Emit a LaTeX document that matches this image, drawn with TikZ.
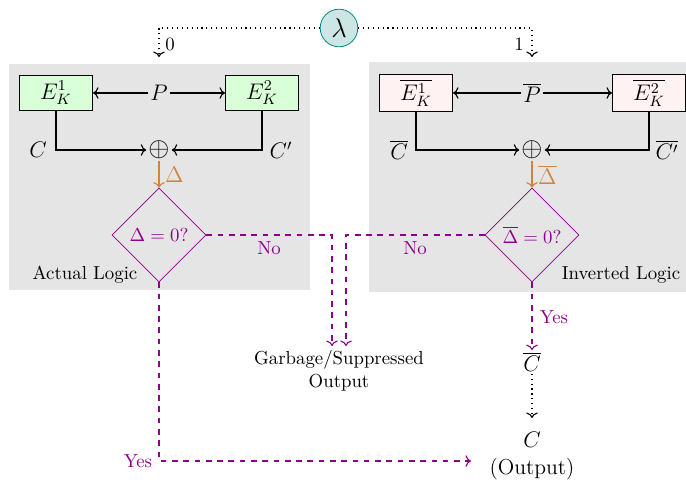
\documentclass[tikz,border=0pt]{standalone}
\usetikzlibrary{shapes.geometric,arrows.meta}
\definecolor{myorange}{RGB}{205,133,63}
\definecolor{mypurple}{RGB}{140,0,140}
\begin{document}
\begin{tikzpicture}[x=0.532pt,y=-0.532pt,
  panel/.style={fill=gray!20,draw=none},
  encg/.style={draw,fill=green!15,minimum width=39pt,minimum height=19pt,inner sep=1pt,font=\large},
  encr/.style={draw,fill=red!5,minimum width=39pt,minimum height=20pt,inner sep=1pt,font=\large},
  lbl/.style={inner sep=1pt},
  mlbl/.style={inner sep=1pt,font=\large},
  plbl/.style={inner sep=1pt,text=mypurple},
  dec/.style={draw=mypurple,shape=diamond,aspect=1,minimum width=50pt,minimum height=50pt,inner sep=0pt,text=mypurple},
  blk/.style={semithick,->},
  org/.style={draw=myorange,semithick,->},
  pdash/.style={draw=mypurple,semithick,dashed,->},
  dots/.style={dotted,semithick,->}]
\useasboundingbox (0,0) rectangle (686,482);
% panels
\fill[panel] (9,64) rectangle (310,290);
\fill[panel] (369,62) rectangle (686,292);
% lambda
\node[circle,draw=teal,fill=teal!20,minimum size=20pt,inner sep=0pt,font=\Large] (lam) at (339,28) {$\lambda$};
\coordinate (t1) at (159,57);
\coordinate (t2) at (532,57);
\draw[dots] (lam.west) -| (t1);
\draw[dots] (lam.east) -| (t2);
\node[lbl] (z0) at (170,44) {0};
\node[lbl] (z1) at (519,44) {1};
% left logic
\node[encg] (E1) at (56,93) {$E_K^1$};
\node[encg] (E2) at (262,93) {$E_K^2$};
\node[mlbl] (P) at (159,93) {$P$};
\node[lbl,font=\Large] (X1) at (159,150) {$\oplus$};
\node[mlbl] (C1) at (38,150) {$C$};
\node[mlbl] (C1p) at (281,150) {$C'$};
\draw[blk] (P) -- (E1);
\draw[blk] (P) -- (E2);
\draw[blk] (E1.south) |- (X1.west);
\draw[blk] (E2.south) |- (X1.east);
\node[dec] (D1) at (159,235) {$\Delta=0?$};
\draw[org] (X1.south) -- (D1.north) node[midway,right,text=myorange,inner sep=3pt,font=\large] {$\Delta$};
\node[lbl] (AL) at (85,275) {Actual Logic};
% right logic
\node[encr] (F1) at (416,93) {$\overline{E_K^1}$};
\node[encr] (F2) at (649,93) {$\overline{E_K^2}$};
\node[mlbl] (Pb) at (532,93) {$\overline{P}$};
\node[lbl,font=\Large] (X2) at (532,150) {$\oplus$};
\node[mlbl] (C2) at (399,150) {$\overline{C}$};
\node[mlbl] (C2p) at (667,150) {$\overline{C'}$};
\draw[blk] (Pb) -- (F1);
\draw[blk] (Pb) -- (F2);
\draw[blk] (F1.south) |- (X2.west);
\draw[blk] (F2.south) |- (X2.east);
\node[dec] (D2) at (532,235) {$\overline{\Delta}=0?$};
\draw[org] (X2.south) -- (D2.north) node[midway,right,text=myorange,inner sep=3pt,font=\large] {$\overline{\Delta}$};
\node[lbl] (IL) at (621,275) {Inverted Logic};
% garbage
\node[align=center,inner sep=1pt] (G) at (339,371) {Garbage/Suppressed\\Output};
\coordinate (g1) at (332,346);
\coordinate (g2) at (346,346);
\draw[pdash] (D1.east) -| (g1);
\draw[pdash] (D2.west) -| (g2);
\node[plbl] (no1) at (269,248) {No};
\node[plbl] (no2) at (415,248) {No};
% outputs
\node[mlbl] (Cb) at (532,362) {$\overline{C}$};
\draw[pdash] (D2.south) -- (Cb.north);
\node[plbl] (yes2) at (554,317) {Yes};
\node[align=center,inner sep=1pt,font=\fontsize{11.5}{14}\selectfont] (CO) at (532,456) {$C$\\(Output)};
\coordinate (co) at (532,418);
\draw[dots] (Cb.south) -- (co);
\coordinate (ye) at (471,461);
\draw[pdash] (D1.south) |- (ye);
\node[plbl] (yes1) at (138,461) {Yes};
\end{tikzpicture}
\end{document}
